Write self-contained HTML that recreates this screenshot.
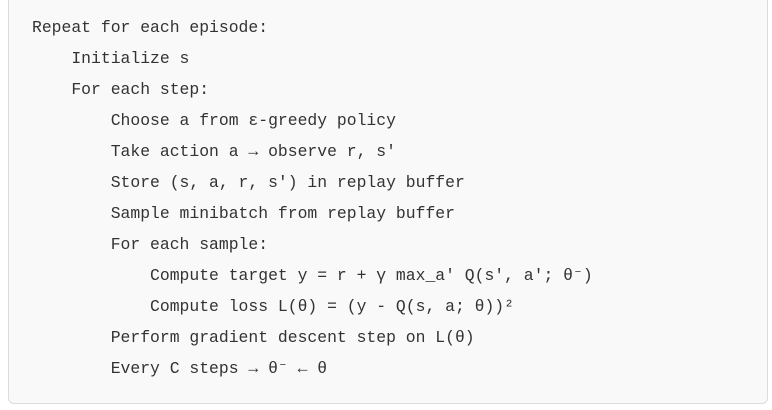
<!DOCTYPE html>
<html><head><meta charset="utf-8"><style>
html,body{margin:0;padding:0;width:772px;height:410px;background:#fff;overflow:hidden}
.box{position:absolute;left:8px;top:-6px;width:760px;height:410px;background:#f9f9f9;border:1px solid #dcdcdc;border-radius:6px;box-sizing:border-box}
pre{position:absolute;left:32px;top:12px;margin:0;font-family:"Liberation Mono","DejaVu Sans Mono",monospace;font-size:16.4px;line-height:31.0px;color:#333}
</style></head><body>
<div class="box"></div>
<pre>Repeat for each episode:
    Initialize s
    For each step:
        Choose a from ε-greedy policy
        Take action a → observe r, s'
        Store (s, a, r, s') in replay buffer
        Sample minibatch from replay buffer
        For each sample:
            Compute target y = r + γ max_a' Q(s', a'; θ⁻)
            Compute loss L(θ) = (y - Q(s, a; θ))²
        Perform gradient descent step on L(θ)
        Every C steps → θ⁻ ← θ</pre>
</body></html>
